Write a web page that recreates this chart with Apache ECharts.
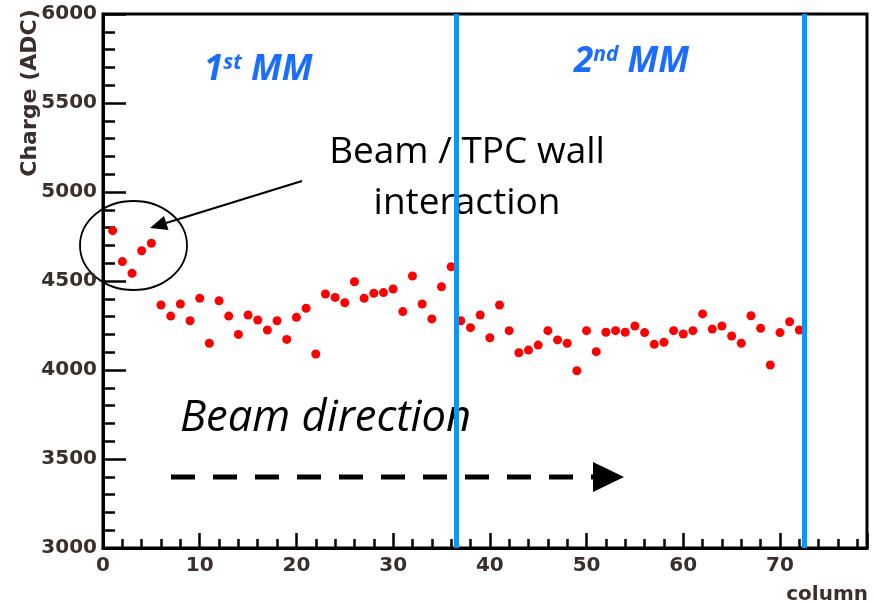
<!DOCTYPE html>
<html>
<head>
<meta charset="utf-8">
<title>Charge vs column</title>
<script src="https://cdn.jsdelivr.net/npm/echarts@6/dist/echarts.min.js"></script>
<style>
  html, body { margin: 0; padding: 0; background: #fff; }
  #chart { width: 874px; height: 603px; }
</style>
</head>
<body>
<div id="chart"></div>
<script>
// pad columns (x) and mean charge per column (y)
const columns = [
  1, 2, 3, 4, 5, 6, 7, 8, 9, 10, 11, 12, 13, 14, 15, 16, 17, 18, 19, 20,
  21, 22, 23, 24, 25, 26, 27, 28, 29, 30, 31, 32, 33, 34, 35, 36, 37, 38, 39, 40,
  41, 42, 43, 44, 45, 46, 47, 48, 49, 50, 51, 52, 53, 54, 55, 56, 57, 58, 59, 60,
  61, 62, 63, 64, 65, 66, 67, 68, 69, 70, 71, 72
]
const charge = [
  4783, 4609, 4543, 4670, 4712, 4365, 4303, 4371, 4277, 4403,
  4150, 4389, 4303, 4200, 4309, 4281, 4225, 4277, 4172, 4296,
  4347, 4090, 4427, 4408, 4378, 4496, 4403, 4431, 4435, 4455,
  4328, 4528, 4371, 4287, 4468, 4580, 4277, 4238, 4309, 4181,
  4365, 4221, 4097, 4112, 4140, 4221, 4169, 4150, 3996, 4221,
  4103, 4212, 4221, 4212, 4247, 4210, 4144, 4156, 4221, 4202,
  4221, 4315, 4230, 4247, 4191, 4150, 4305, 4234, 4028, 4210,
  4271, 4225
]
// micromegas boundaries
const mmEdges = [36.5, 72.5]
const xRange = [0, 79]
const yRange = [3000, 6000]

const labelFont = {
  fontFamily: 'DejaVu Sans',
  fontWeight: 'bold',
  fontSize: 20,
  color: '#3a2f2a'
}
const blue = '#1a6dff'

const chart = echarts.init(document.getElementById('chart'))

const xCommon = {
  type: 'value',
  min: xRange[0],
  max: xRange[1],
  position: 'bottom',
  splitLine: { show: false }
}

const mmLabel = (big, sup) => ({
  text: `{b|${big}}{s|${sup}}{b| MM}`,
  verticalAlign: 'middle',
  rich: {
    b: { fontFamily: 'Open Sans', fontStyle: 'italic', fontWeight: 'bold', fontSize: 35, fill: blue },
    s: { fontFamily: 'Open Sans', fontStyle: 'italic', fontWeight: 'bold', fontSize: 21, fill: blue, verticalAlign: 'top' }
  }
})

chart.setOption({
  animation: false,
  backgroundColor: '#fff',
  grid: {
    left: 103, right: 7, top: 14, bottom: 55,
    show: true, borderColor: '#000', borderWidth: 3
  },
  xAxis: [
    {
      ...xCommon,
      interval: 2,
      axisLine: { onZero: false, lineStyle: { color: '#000', width: 3 } },
      axisTick: { inside: true, length: 9, lineStyle: { color: '#000', width: 2.5 } },
      axisLabel: {
        ...labelFont,
        margin: 8,
        formatter: v => (v % 10 === 0 ? String(v) : '')
      }
    },
    {
      ...xCommon,
      interval: 10,
      axisLine: { show: false },
      axisTick: { inside: true, length: 15, lineStyle: { color: '#000', width: 2.5 } },
      axisLabel: { show: false }
    }
  ],
  yAxis: {
    type: 'value',
    min: yRange[0],
    max: yRange[1],
    interval: 500,
    axisLine: { onZero: false, lineStyle: { color: '#000', width: 3 } },
    axisTick: { inside: true, length: 23, lineStyle: { color: '#000', width: 2.5 } },
    minorTick: { show: true, splitNumber: 5, length: 12, lineStyle: { color: '#000', width: 2.5 } },
    axisLabel: { ...labelFont, margin: 6, formatter: v => String(v) },
    splitLine: { show: false }
  },
  series: [
    {
      type: 'scatter',
      z: 2,
      symbol: 'circle',
      symbolSize: 9,
      itemStyle: { color: '#ff0000', opacity: 1 },
      data: columns.map((c, i) => [c, charge[i]])
    },
    {
      // MM boundaries
      type: 'scatter',
      z: 3,
      data: [],
      markLine: {
        silent: true,
        symbol: 'none',
        label: { show: false },
        lineStyle: { color: '#0099ff', width: 5, type: 'solid' },
        data: mmEdges.map(x => ({ xAxis: x }))
      }
    }
  ],
  graphic: [
    // axis titles
    {
      type: 'text', x: 30, y: 93, rotation: Math.PI / 2,
      style: {
        text: 'Charge (ADC)', ...labelFont, fill: labelFont.color, fontSize: 22,
        align: 'center', verticalAlign: 'middle'
      }
    },
    {
      type: 'text', x: 868, y: 585,
      style: {
        text: 'column', ...labelFont, fill: labelFont.color, fontSize: 20,
        align: 'right', verticalAlign: 'top'
      }
    },
    // MM labels
    { type: 'text', x: 204, y: 70, style: mmLabel('1', 'st') },
    { type: 'text', x: 574, y: 62, style: mmLabel('2', 'nd') },
    // beam / wall interaction note
    {
      type: 'text', x: 467, y: 152,
      style: {
        text: 'Beam / TPC wall', fontFamily: 'Open Sans', fontSize: 37, fill: '#000',
        align: 'center', verticalAlign: 'middle'
      }
    },
    {
      type: 'text', x: 467, y: 203,
      style: {
        text: 'interaction', fontFamily: 'Open Sans', fontSize: 37, fill: '#000',
        align: 'center', verticalAlign: 'middle'
      }
    },
    {
      type: 'ellipse',
      shape: { cx: 133.5, cy: 245.5, rx: 53.5, ry: 44.5 },
      style: { fill: 'none', stroke: '#000', lineWidth: 1.8 }
    },
    {
      type: 'line',
      shape: { x1: 302, y1: 181, x2: 166, y2: 223 },
      style: { stroke: '#000', lineWidth: 2 }
    },
    {
      type: 'polygon',
      shape: { points: [[150, 228], [164, 216], [168.5, 230]] },
      style: { fill: '#000' }
    },
    // beam direction
    {
      type: 'text', x: 180, y: 419,
      style: {
        text: 'Beam direction', fontFamily: 'Open Sans', fontStyle: 'italic', fontSize: 43.5, fill: '#000',
        align: 'left', verticalAlign: 'middle'
      }
    },
    {
      type: 'line',
      shape: { x1: 171, y1: 477, x2: 596, y2: 477 },
      style: { stroke: '#000', lineWidth: 5, lineDash: [24, 18] }
    },
    {
      type: 'polygon',
      shape: { points: [[593, 462], [624, 477], [593, 492]] },
      style: { fill: '#000' }
    }
  ]
})
</script>
</body>
</html>
